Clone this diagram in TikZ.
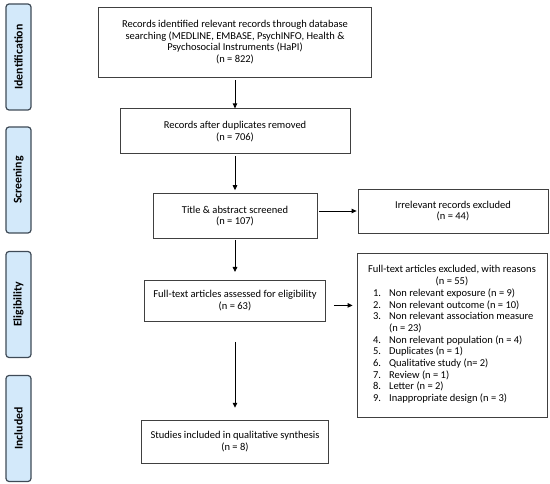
\documentclass[tikz,border=0pt]{standalone}
\usepackage{fontspec}
\setmainfont{Carlito}
\usepackage{tikz}
\usetikzlibrary{arrows.meta, positioning}

\definecolor{stagefill}{HTML}{D3E9FA}
\definecolor{stageline}{HTML}{3F4B57}

\begin{document}
\begin{tikzpicture}[
    x=1pt, y=1pt,
    node distance=31pt,
    plainbox/.style={rectangle, draw=black!75, line width=0.8pt, inner sep=3pt, font=\fontsize{10.5}{11.7}\selectfont},
    box/.style={plainbox, align=center},
    stage/.style={rectangle, rounded corners=3pt, draw=stageline, line width=1.2pt, fill=stagefill, minimum width=106pt, minimum height=25pt, rotate=90, font=\fontsize{11.8}{13}\selectfont\bfseries},
    arrow/.style={-{Triangle[length=5pt, width=4.5pt]}, line width=0.9pt},
]
\useasboundingbox (0,0) rectangle (550,-484);

% Stage labels
\node[stage] (ident) at (18.5,-57) {Identification};
\node[stage] (screening) at (18.5,-180) {Screening};
\node[stage] (eligib) at (18.5,-304.5) {Eligibility};
\node[stage] (included) at (18.5,-428.5) {Included};

% Main flow
\node[box, minimum width=273pt, minimum height=70pt] (search) at (235,-42) {Records identified relevant records through database\\searching (MEDLINE, EMBASE, PsychINFO, Health \&\\Psychosocial Instruments (HaPI)\\(n = 822)};
\node[box, minimum width=230pt, minimum height=45pt, below=31pt of search] (dedup) {Records after duplicates removed\\(n = 706)};
\node[box, minimum width=164pt, minimum height=45pt, below=39pt of dedup] (screen) {Title \& abstract screened\\(n = 107)};
\node[box, minimum width=181pt, minimum height=41pt, below=41pt of screen] (fulltext) {Full-text articles assessed for eligibility\\(n = 63)};
\node[box, minimum width=187pt, minimum height=43pt, below=98pt of fulltext] (incl) {Studies included in qualitative synthesis\\(n = 8)};

% Exclusions
\node[box, minimum width=190pt, minimum height=44pt] (irrel) at (453,-211) {Irrelevant records excluded\\(n = 44)};
\node[plainbox, minimum width=190pt, minimum height=164pt] (excl) at (452,-335) {%
  \begin{tabular}{@{\hspace{5pt}}l@{}}
  \multicolumn{1}{@{}c@{}}{Full-text articles excluded, with reasons}\\
  \multicolumn{1}{@{}c@{}}{(n = 55)}\\
  \makebox[16pt][l]{1.}Non relevant exposure (n = 9)\\
  \makebox[16pt][l]{2.}Non relevant outcome (n = 10)\\
  \makebox[16pt][l]{3.}Non relevant association measure\\
  \makebox[16pt][l]{}(n = 23)\\
  \makebox[16pt][l]{4.}Non relevant population (n = 4)\\
  \makebox[16pt][l]{5.}Duplicates (n = 1)\\
  \makebox[16pt][l]{6.}Qualitative study (n= 2)\\
  \makebox[16pt][l]{7.}Review (n = 1)\\
  \makebox[16pt][l]{8.}Letter (n = 2)\\
  \makebox[16pt][l]{9.}Inappropriate design (n = 3)
  \end{tabular}};

% Arrows
\draw[arrow, shorten <=3pt] (search) -- (dedup);
\draw[arrow, shorten <=2pt, shorten >=3pt] (dedup) -- (screen);
\draw[arrow, shorten <=1pt, shorten >=8pt] (screen) -- (fulltext);
\draw[arrow, shorten <=20pt, shorten >=12pt] (fulltext) -- (incl);
\draw[arrow, shorten <=2pt, shorten >=1pt] (screen.east |- irrel) -- (irrel);
\draw[arrow, shorten <=8pt, shorten >=4pt] ([yshift=-4.5pt]fulltext.east) -- ([yshift=-4.5pt]fulltext.east -| excl.west);

\end{tikzpicture}
\end{document}
